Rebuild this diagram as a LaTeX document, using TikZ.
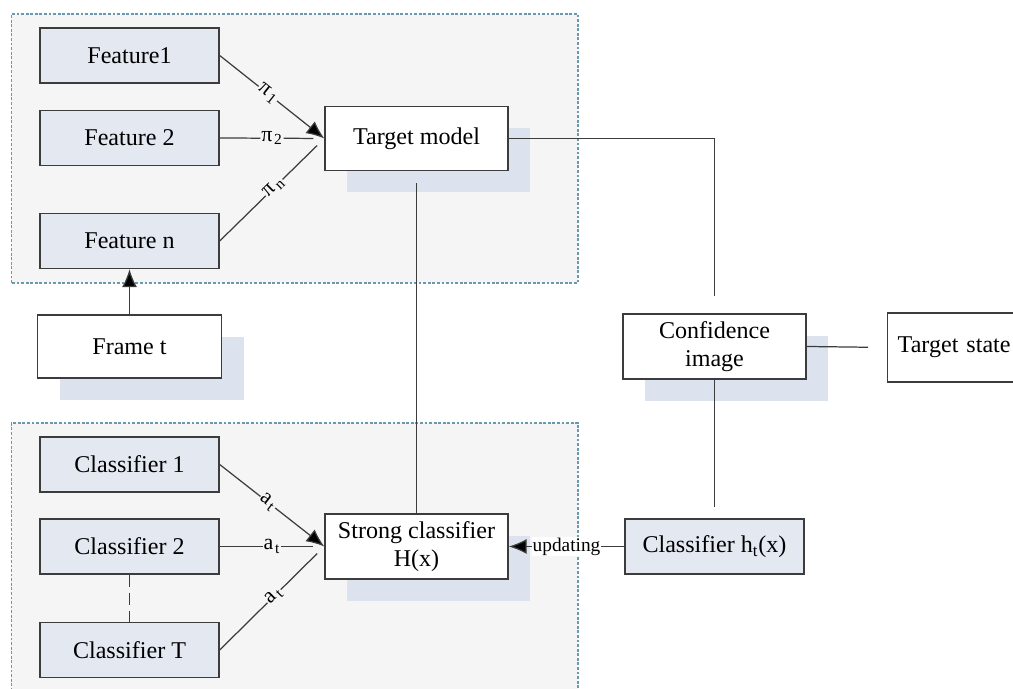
\documentclass[tikz,border=0pt]{standalone}
\usepackage{fontspec}
\setmainfont{Liberation Serif}
\usetikzlibrary{arrows.meta,positioning,calc,shadows}
\definecolor{featfill}{HTML}{E3E8F1}
\definecolor{shade}{HTML}{DCE3EE}
\definecolor{groupbg}{HTML}{F5F5F5}
\definecolor{groupline}{HTML}{6A98AC}
\definecolor{edge}{HTML}{3C3C3C}

\begin{document}
\begin{tikzpicture}[
  font=\fontsize{13.7}{16}\selectfont,
  feat/.style={draw=edge,line width=0.8pt,fill=featfill,minimum width=3.58cm,minimum height=1.1cm},
  mainbox/.style={draw=edge,line width=0.8pt,fill=white,minimum width=3.66cm,minimum height=1.28cm,align=center},
  shadowed/.style={drop shadow={shadow xshift=0.44cm,shadow yshift=-0.44cm,fill=shade,opacity=1}},
  group/.style={draw=groupline,fill=groupbg,line width=0.8pt,dash pattern=on 1.6pt off 1pt},
  link/.style={draw=edge,line width=0.7pt},
  tip/.style={-{Latex[length=0.36cm,width=0.3cm,fill=black]}},
  weight/.style={fill=groupbg,inner sep=0.5pt,sloped,font=\fontsize{12.5}{14}\selectfont}
]
  \useasboundingbox (0,0) rectangle (20.26,13.78);
  \clip (0,0) rectangle (20.26,13.78);

  % feature group
  \draw[group] (0.23,8.12) rectangle (11.56,13.5);
  \node[feat] (f1) at (2.59,12.67) {Feature1};
  \node[feat] (f2) at (2.59,11.02) {Feature 2};
  \node[feat] (fn) at (2.59,8.96) {Feature n};
  \node[mainbox,shadowed] (tm) at (8.33,11.01) {Target model};

  % classifier group
  \draw[group] (0.23,-0.4) rectangle (11.56,5.32);
  \node[feat] (c1) at (2.59,4.49) {Classifier 1};
  \node[feat] (c2) at (2.59,2.85) {Classifier 2};
  \node[feat] (cT) at (2.59,0.78) {Classifier T};
  \node[mainbox,shadowed,minimum height=1.3cm] (sc) at (8.33,2.85) {Strong classifier\\H(x)};

  % outside
  \node[mainbox,shadowed,minimum width=3.68cm,minimum height=1.26cm] (frame) at (2.59,6.85) {Frame t};
  \node[mainbox,shadowed,minimum height=1.3cm] (ci) at (14.29,6.85) {Confidence\\image};
  \node[mainbox,anchor=west,minimum width=0pt,minimum height=1.38cm,text width=2.6cm,inner xsep=0.2cm,align=left] (ts) at (17.74,6.83) {Target state};
  \node[feat] (ch) at (14.29,2.85) {Classifier h\textsubscript{t}(x)};

  % weights
  \draw[link,tip] (f1.east) -- node[weight,pos=0.46] {π\kern1pt\textsubscript{1}} (tm.west);
  \draw[link,shorten >=0.22cm] (f2.east) -- node[weight,pos=0.5] {π\kern1pt\textsubscript{2}} (tm.west);
  \draw[link,shorten >=0.2cm] (fn.east) -- node[weight,pos=0.52] {π\kern1pt\textsubscript{n}} (tm.west);
  \draw[link,tip] (c1.east) -- node[weight,pos=0.46] {a\kern1pt\textsubscript{t}} (sc.west);
  \draw[link,shorten >=0.22cm] (c2.east) -- node[weight,pos=0.5] {a\kern1pt\textsubscript{t}} (sc.west);
  \draw[link,shorten >=0.2cm] (cT.east) -- node[weight,pos=0.52] {a\kern1pt\textsubscript{t}} (sc.west);
  \draw[link,dash pattern=on 0.24cm off 0.12cm] (c2.south) -- (cT.north);

  % links
  \draw[link,tip] (frame.north) -- (fn.south);
  \draw[link,shorten <=0.24cm] (tm.south) -- (sc.north);
  \draw[link,shorten >=0.34cm] (tm.east) -| (ci.north);
  \draw[link,shorten >=0.38cm] (ci.east) -- (ts.west);
  \draw[link,shorten >=0.22cm] (ci.south) -- (ch.north);
  \draw[link,tip] (ch.west) -- node[pos=0.5,fill=white,inner sep=0.5pt,font=\fontsize{11}{13}\selectfont] {updating} (sc.east);
\end{tikzpicture}
\end{document}
